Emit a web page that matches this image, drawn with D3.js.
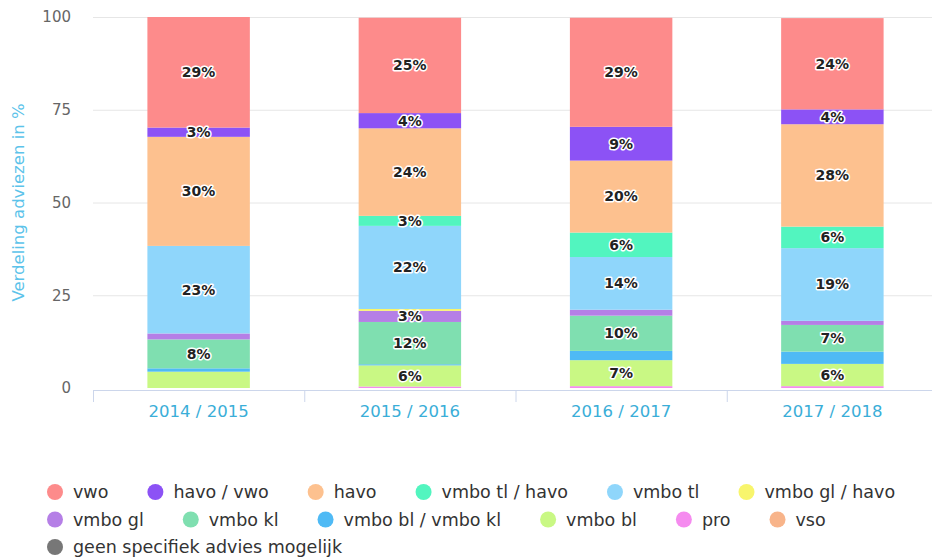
<!DOCTYPE html>
<html>
<head>
  <meta charset="utf-8">
  <title>Verdeling adviezen</title>
  <script src="https://d3js.org/d3.v7.min.js"></script>
  <style>
    body {
      margin: 0;
      padding: 0;
      background: #fff;
    }
    svg {
      font-family: "DejaVu Sans", Verdana, sans-serif;
    }
    .grid line {
      stroke: #e6e6e6;
    }
    .ylab text {
      fill: #666;
      font-size: 15px;
    }
    .xlab text {
      fill: #3aaed8;
      font-size: 16.5px;
    }
    .seglabel {
      font-size: 14px;
      font-weight: bold;
      fill: #222;
      stroke: #fff;
      stroke-width: 3px;
      paint-order: stroke;
      stroke-linejoin: round;
    }
    .legend text {
      font-size: 17.5px;
      fill: #333;
    }
  </style>
</head>
<body>
<div id="chart"></div>
<script>
  // schooljaren
  var years = ["2014 / 2015", "2015 / 2016", "2016 / 2017", "2017 / 2018"];

  // series, top of the stack first (legend order)
  var series = ["vwo", "havo / vwo", "havo", "vmbo tl / havo", "vmbo tl", "vmbo gl / havo",
                "vmbo gl", "vmbo kl", "vmbo bl / vmbo kl", "vmbo bl", "pro", "vso",
                "geen specifiek advies mogelijk"];

  var colors = ["#fd8b8b", "#8c52f5", "#fdc18f", "#52f5bf", "#8fd6fb", "#f8f56c",
                "#b57fe6", "#7fdfb0", "#4fbaf5", "#c9f884", "#f58bef", "#f8b48a", "#777777"];

  // percentages per year
  var vwo        = [29.8, 25.7, 29.4, 24.6];
  var havoVwo    = [2.5, 4.1, 9.1, 4.0];
  var havo       = [29.4, 23.6, 19.4, 27.6];
  var vmboTlHavo = [0, 2.7, 6.6, 5.8];
  var vmboTl     = [23.6, 22.4, 14.2, 19.6];
  var vmboGlHavo = [0, 0.5, 0, 0];
  var vmboGl     = [1.6, 3.0, 1.6, 1.1];
  var vmboKl     = [7.8, 11.4, 9.5, 7.2];
  var vmboBlKl   = [0.9, 0.3, 2.5, 3.3];
  var vmboBl     = [4.4, 5.7, 7.0, 6.0];
  var pro        = [0, 0.4, 0.5, 0.5];
  var vso        = [0, 0, 0, 0];
  var geen       = [0, 0, 0, 0];

  var values = [vwo, havoVwo, havo, vmboTlHavo, vmboTl, vmboGlHavo, vmboGl,
                vmboKl, vmboBlKl, vmboBl, pro, vso, geen];

  // data labels as shown (null = hidden)
  var labels = [
    ["29%", "25%", "29%", "24%"],
    ["3%", "4%", "9%", "4%"],
    ["30%", "24%", "20%", "28%"],
    [null, "3%", "6%", "6%"],
    ["23%", "22%", "14%", "19%"],
    [null, null, null, null],
    [null, "3%", null, null],
    ["8%", "12%", "10%", "7%"],
    [null, null, null, null],
    [null, "6%", "7%", "6%"],
    [null, null, null, null],
    [null, null, null, null],
    [null, null, null, null]
  ];

  var yTicks = [0, 25, 50, 75, 100];

  var width = 932, height = 558;
  var plotLeft = 93, plotRight = 938, plotTop = 17, plotBottom = 388;

  var svg = d3.select("#chart").append("svg")
    .attr("width", width)
    .attr("height", height);

  var x = d3.scaleBand().domain(years).range([plotLeft, plotRight]).paddingInner(0.515).paddingOuter(0.2575);
  var xTick = d3.scaleBand().domain(years).range([plotLeft, plotRight]);
  var y = d3.scaleLinear().domain([0, 100]).range([plotBottom, plotTop]);

  // grid lines
  svg.append("g").attr("class", "grid")
    .selectAll("line").data(yTicks.filter(function(d) { return d > 0; })).enter()
    .append("line")
      .attr("x1", plotLeft).attr("x2", width)
      .attr("y1", function(d) { return y(d) + 0.5; })
      .attr("y2", function(d) { return y(d) + 0.5; });

  // y labels
  svg.append("g").attr("class", "ylab")
    .selectAll("text").data(yTicks).enter()
    .append("text")
      .attr("x", 71)
      .attr("y", function(d) { return y(d); })
      .attr("dy", "0.35em")
      .attr("text-anchor", "end")
      .text(function(d) { return d; });

  svg.append("text")
    .attr("transform", "translate(24," + ((plotTop + plotBottom) / 2) + ") rotate(-90)")
    .attr("text-anchor", "middle")
    .attr("fill", "#5cc3ea")
    .style("font-size", "16.5px")
    .text("Verdeling adviezen in %");

  // stack: first series on top, so stack in reverse order
  var rows = years.map(function(yr, i) {
    var r = { year: yr };
    series.forEach(function(s, j) { r[s] = values[j][i]; });
    return r;
  });
  var stack = d3.stack().keys(series.slice().reverse());
  var layers = stack(rows);

  var segs = svg.append("g").selectAll("g").data(layers).enter()
    .append("g")
      .attr("fill", function(d) { return colors[series.indexOf(d.key)]; });

  segs.selectAll("rect").data(function(d) { return d; }).enter()
    .append("rect")
      .attr("x", function(d) { return x(d.data.year); })
      .attr("width", x.bandwidth())
      .attr("y", function(d) { return y(d[1]); })
      .attr("height", function(d) { return y(d[0]) - y(d[1]); });

  // segment labels
  layers.forEach(function(layer) {
    var si = series.indexOf(layer.key);
    layer.forEach(function(d, i) {
      var t = labels[si][i];
      if (!t) return;
      svg.append("text")
        .attr("class", "seglabel")
        .attr("x", x(d.data.year) + x.bandwidth() / 2)
        .attr("y", (y(d[0]) + y(d[1])) / 2)
        .attr("dy", "0.35em")
        .attr("text-anchor", "middle")
        .text(t);
    });
  });

  // x axis
  var xa = svg.append("g");
  xa.append("line")
    .attr("x1", plotLeft).attr("x2", width)
    .attr("y1", plotBottom + 2.5).attr("y2", plotBottom + 2.5)
    .attr("stroke", "#ccd6eb");
  xa.selectAll("line.tick").data(years).enter()
    .append("line").attr("class", "tick")
      .attr("x1", function(d) { return xTick(d) + 0.5; })
      .attr("x2", function(d) { return xTick(d) + 0.5; })
      .attr("y1", plotBottom + 2).attr("y2", plotBottom + 14)
      .attr("stroke", "#ccd6eb");
  xa.append("g").attr("class", "xlab")
    .selectAll("text").data(years).enter()
    .append("text")
      .attr("x", function(d) { return x(d) + x.bandwidth() / 2; })
      .attr("y", 417)
      .attr("text-anchor", "middle")
      .text(function(d) { return d; });

  // legend, flowing rows
  var leg = svg.append("g").attr("class", "legend");
  var lx = 47, ly = 492, maxX = 925;
  series.forEach(function(s, i) {
    var g = leg.append("g");
    var t = g.append("text").attr("x", 26).attr("dy", "0.35em").text(s);
    var w = 26 + t.node().getComputedTextLength();
    if (lx + w > maxX) { lx = 47; ly += 27.5; }
    g.attr("transform", "translate(" + lx + "," + ly + ")");
    g.append("circle").attr("cx", 8).attr("cy", 0).attr("r", 8).attr("fill", colors[i]);
    lx += w + 39;
  });
</script>
</body>
</html>
